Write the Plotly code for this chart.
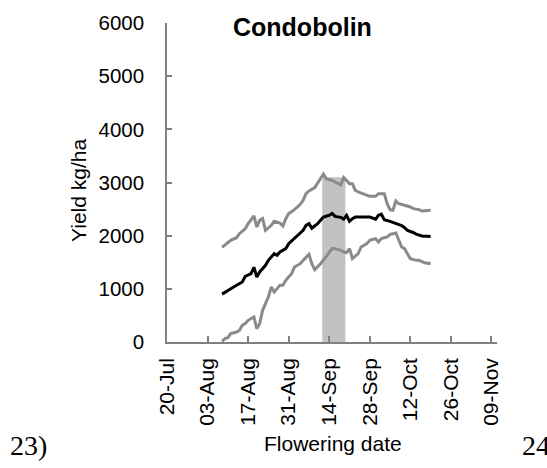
import plotly.graph_objects as go

# ---------------- data ----------------
mean_dates = ["2000-08-08", "2000-08-10", "2000-08-11", "2000-08-13", "2000-08-15", "2000-08-16",
              "2000-08-18", "2000-08-19", "2000-08-20", "2000-08-21", "2000-08-23", "2000-08-24",
              "2000-08-26", "2000-08-27", "2000-08-28", "2000-08-30", "2000-08-31", "2000-09-02",
              "2000-09-04", "2000-09-05", "2000-09-06", "2000-09-07", "2000-09-08", "2000-09-10",
              "2000-09-11", "2000-09-12", "2000-09-14", "2000-09-15", "2000-09-16", "2000-09-18",
              "2000-09-19", "2000-09-20", "2000-09-21", "2000-09-22", "2000-09-23", "2000-09-25",
              "2000-09-27", "2000-09-28", "2000-09-30", "2000-10-01", "2000-10-02", "2000-10-03",
              "2000-10-05", "2000-10-06", "2000-10-08", "2000-10-09", "2000-10-10", "2000-10-11",
              "2000-10-13", "2000-10-14", "2000-10-16", "2000-10-19"]
mean_yield = [900, 960, 1003, 1066, 1129, 1235,
              1285, 1405, 1223, 1317, 1442, 1536,
              1660, 1630, 1693, 1756, 1850, 1944,
              2037, 2100, 2194, 2226, 2140, 2226,
              2290, 2350, 2383, 2420, 2363, 2345,
              2310, 2383, 2270, 2320, 2350, 2350,
              2350, 2350, 2310, 2383, 2405, 2300,
              2270, 2250, 2210, 2190, 2150, 2100,
              2060, 2030, 1995, 1985]

upper_dates = ["2000-08-08", "2000-08-10", "2000-08-11", "2000-08-13", "2000-08-14", "2000-08-16",
               "2000-08-17", "2000-08-19", "2000-08-20", "2000-08-21", "2000-08-22", "2000-08-23",
               "2000-08-25", "2000-08-26", "2000-08-28", "2000-08-29", "2000-08-30", "2000-08-31",
               "2000-09-02", "2000-09-04", "2000-09-05", "2000-09-06", "2000-09-07", "2000-09-09",
               "2000-09-10", "2000-09-11", "2000-09-12", "2000-09-13", "2000-09-15", "2000-09-16",
               "2000-09-18", "2000-09-19", "2000-09-21", "2000-09-22", "2000-09-23", "2000-09-24",
               "2000-09-25", "2000-09-27", "2000-09-28", "2000-09-30", "2000-10-01", "2000-10-03",
               "2000-10-04", "2000-10-05", "2000-10-06", "2000-10-07", "2000-10-08", "2000-10-10",
               "2000-10-12", "2000-10-13", "2000-10-15", "2000-10-16", "2000-10-17", "2000-10-19"]
upper_yield = [1780, 1862, 1912, 1962, 2037, 2131,
               2226, 2370, 2163, 2288, 2320, 2100,
               2194, 2270, 2238, 2180, 2320, 2414,
               2490, 2590, 2665, 2790, 2840, 2903,
               2991, 3072, 3160, 3072, 3041, 3010,
               2955, 3095, 2978, 2978, 2853, 2822,
               2803, 2759, 2740, 2740, 2790, 2790,
               2602, 2489, 2477, 2652, 2602, 2571,
               2539, 2508, 2490, 2464, 2470, 2477]

lower_dates = ["2000-08-08", "2000-08-09", "2000-08-10", "2000-08-11", "2000-08-13", "2000-08-14",
               "2000-08-15", "2000-08-16", "2000-08-17", "2000-08-19", "2000-08-20", "2000-08-21",
               "2000-08-22", "2000-08-24", "2000-08-25", "2000-08-26", "2000-08-28", "2000-08-29",
               "2000-08-30", "2000-09-01", "2000-09-02", "2000-09-04", "2000-09-05", "2000-09-06",
               "2000-09-07", "2000-09-08", "2000-09-09", "2000-09-11", "2000-09-12", "2000-09-13",
               "2000-09-15", "2000-09-16", "2000-09-18", "2000-09-19", "2000-09-20", "2000-09-21",
               "2000-09-22", "2000-09-24", "2000-09-25", "2000-09-27", "2000-09-28", "2000-09-30",
               "2000-10-01", "2000-10-02", "2000-10-04", "2000-10-05", "2000-10-06", "2000-10-07",
               "2000-10-09", "2000-10-10", "2000-10-11", "2000-10-12", "2000-10-14", "2000-10-15",
               "2000-10-17", "2000-10-19"]
lower_yield = [10, 63, 82, 157, 188, 219,
               313, 345, 408, 470, 251, 345,
               596, 847, 1035, 941, 1066, 1066,
               1160, 1285, 1410, 1473, 1536, 1599,
               1650, 1473, 1360, 1473, 1536, 1611,
               1760, 1756, 1724, 1693, 1680, 1756,
               1570, 1662, 1787, 1850, 1912, 1944,
               1881, 1944, 1975, 2025, 2037, 2050,
               1787, 1756, 1662, 1567, 1536, 1536,
               1490, 1470]

band_dates = ["2000-09-11 14:00", "2000-09-19 14:00"]
band_top = 3100

x_range = ["2000-07-20", "2000-11-10 22:00"]
tick_start = "2000-07-20"
tick_step_days = 14
y_ticks = [0, 1000, 2000, 3000, 4000, 5000, 6000]

title_text = "Condobolin"
x_title = "Flowering date"
y_title = "Yield kg/ha"
panel_left = "23)"
panel_right = "24"

# ---------------- layout helpers ----------------
W, H = 547, 468
L, R, T, B = 167, 50, 23, 126
pw, ph = W - L - R, H - T - B


def xp(px):
    return (px - L) / pw


def yp(py):
    return (H - B - py) / ph


GRAY = "#8a8a8a"
AX = "#808080"
FONT = "Liberation Sans"

fig = go.Figure()

fig.add_shape(type="rect", xref="x", yref="y",
              x0=band_dates[0], x1=band_dates[1], y0=0, y1=band_top,
              fillcolor="#c2c2c2", line=dict(width=0), layer="below")

fig.add_trace(go.Scatter(x=upper_dates, y=upper_yield, mode="lines",
                         line=dict(color=GRAY, width=3), showlegend=False))
fig.add_trace(go.Scatter(x=lower_dates, y=lower_yield, mode="lines",
                         line=dict(color=GRAY, width=3), showlegend=False))
fig.add_trace(go.Scatter(x=mean_dates, y=mean_yield, mode="lines",
                         line=dict(color="black", width=3), showlegend=False))

fig.update_layout(
    width=W, height=H, autosize=False,
    margin=dict(l=L, r=R, t=T, b=B, pad=0),
    paper_bgcolor="white", plot_bgcolor="white",
    font=dict(family=FONT, color="black", size=20),
    xaxis=dict(type="date", range=x_range, tick0=tick_start,
               dtick=tick_step_days * 86400000, tickformat="%d-%b",
               tickangle=-90, ticks="inside", ticklen=6, tickcolor=AX, tickwidth=1.5,
               showline=True, linecolor=AX, linewidth=1.5, showgrid=False, zeroline=False,
               tickfont=dict(size=21, family=FONT), ticklabelstandoff=6, automargin=False),
    yaxis=dict(range=[0, 6000], tickvals=y_ticks, ticks="inside", ticklen=5,
               tickcolor=AX, tickwidth=1.5, showline=True, linecolor=AX, linewidth=1.5,
               showgrid=False, zeroline=False,
               tickfont=dict(size=20.5, family=FONT), ticklabelstandoff=17, automargin=False),
)

fig.add_annotation(text="<b>" + title_text + "</b>", xref="paper", yref="paper",
                   x=xp(302), y=yp(27), xanchor="center", yanchor="middle",
                   showarrow=False, font=dict(size=25, family=FONT, color="black"))
fig.add_annotation(text=y_title, xref="paper", yref="paper", textangle=-90,
                   x=xp(78), y=yp(191), xanchor="center", yanchor="middle",
                   showarrow=False, font=dict(size=21, family=FONT, color="black"))
fig.add_annotation(text=x_title, xref="paper", yref="paper",
                   x=xp(333), y=yp(443), xanchor="center", yanchor="middle",
                   showarrow=False, font=dict(size=21, family=FONT, color="black"))
fig.add_annotation(text=panel_left, xref="paper", yref="paper",
                   x=xp(8), y=yp(445), xanchor="left", yanchor="middle",
                   showarrow=False, font=dict(size=28, family="Liberation Serif", color="black"))
fig.add_annotation(text=panel_right, xref="paper", yref="paper",
                   x=xp(520), y=yp(445), xanchor="left", yanchor="middle",
                   showarrow=False, font=dict(size=28, family="Liberation Serif", color="black"))

fig.write_html("out.html",
               config={"displayModeBar": False},
               post_script="document.body.style.margin='0px';"
                           "document.body.style.overflow='hidden';")
